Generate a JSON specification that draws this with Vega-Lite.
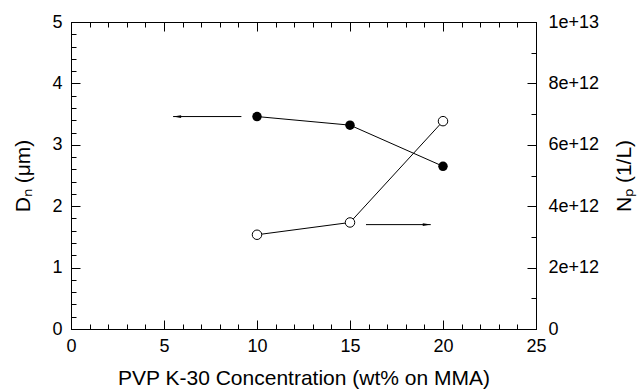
{
  "$schema": "https://vega.github.io/schema/vega-lite/v6.json",
  "width": 465,
  "height": 307,
  "autosize": {"type": "none"},
  "padding": {"left": 71, "top": 22, "right": 101, "bottom": 63},
  "background": "white",
  "datasets": {
    "dn": [
      {"conc": 10, "value": 3.46},
      {"conc": 15, "value": 3.32},
      {"conc": 20, "value": 2.65}
    ],
    "np": [
      {"conc": 10, "value": 3.07e12},
      {"conc": 15, "value": 3.47e12},
      {"conc": 20, "value": 6.77e12}
    ],
    "arrowL": [{"conc": 9.16, "tip": 5.49, "value": 3.46}],
    "arrowR": [{"conc": 15.86, "tip": 19.34, "value": 3.4e12}]
  },
  "config": {
    "font": "Liberation Sans",
    "view": {"stroke": "black", "strokeWidth": 1},
    "axis": {
      "grid": false,
      "domainColor": "black",
      "domainWidth": 1,
      "tickColor": "black",
      "tickWidth": 1,
      "labelFont": "Liberation Sans",
      "labelFontSize": 18,
      "labelColor": "black",
      "labelFlush": false,
      "labelOverlap": false,
      "titleFont": "Liberation Sans",
      "titleFontSize": 21,
      "titleFontWeight": "normal",
      "titleColor": "black"
    }
  },
  "layer": [
    {
      "resolve": {"axis": {"x": "independent", "y": "independent"}},
      "layer": [
        {
          "data": {"name": "dn"},
          "mark": {"type": "line", "color": "black", "strokeWidth": 1},
          "encoding": {
            "x": {
              "field": "conc", "type": "quantitative",
              "scale": {"domain": [0, 25], "nice": false, "zero": false},
              "axis": {
                "orient": "bottom",
                "title": "PVP K-30 Concentration (wt% on MMA)",
                "values": [0, 5, 10, 15, 20, 25],
                "tickSize": -9,
                "labelPadding": 17,
                "titlePadding": 12
              }
            },
            "y": {
              "field": "value", "type": "quantitative",
              "scale": {"domain": [0, 5], "nice": false, "zero": false},
              "axis": {
                "orient": "left",
                "title": "Dₙ (μm)",
                "values": [0, 1, 2, 3, 4, 5],
                "tickSize": -9,
                "labelPadding": 18,
                "titlePadding": 18
              }
            }
          }
        },
        {
          "data": {"name": "dn"},
          "mark": {"type": "point", "shape": "circle", "filled": true, "color": "black", "size": 90, "opacity": 1},
          "encoding": {
            "x": {
              "field": "conc", "type": "quantitative",
              "axis": {
                "orient": "bottom", "title": null, "labels": false, "domain": false,
                "values": [0,1,2,3,4,5,6,7,8,9,10,11,12,13,14,15,16,17,18,19,20,21,22,23,24,25],
                "tickSize": -5
              }
            },
            "y": {
              "field": "value", "type": "quantitative",
              "axis": {
                "orient": "left", "title": null, "labels": false, "domain": false,
                "values": [0,0.2,0.4,0.6,0.8,1,1.2,1.4,1.6,1.8,2,2.2,2.4,2.6,2.8,3,3.2,3.4,3.6,3.8,4,4.2,4.4,4.6,4.8,5],
                "tickSize": -5
              }
            }
          }
        },
        {
          "data": {"name": "arrowL"},
          "mark": {"type": "rule", "color": "black", "strokeWidth": 1},
          "encoding": {
            "x": {"field": "conc", "type": "quantitative", "axis": null},
            "x2": {"field": "tip"},
            "y": {"field": "value", "type": "quantitative", "axis": null}
          }
        },
        {
          "data": {"name": "arrowL"},
          "mark": {"type": "point", "shape": "M 0 0 L 2 -0.35 L 2 0.35 Z", "filled": true, "color": "black", "size": 64, "opacity": 1},
          "encoding": {
            "x": {"field": "tip", "type": "quantitative", "axis": null},
            "y": {"field": "value", "type": "quantitative", "axis": null}
          }
        }
      ]
    },
    {
      "resolve": {"axis": {"x": "independent", "y": "independent"}},
      "layer": [
        {
          "data": {"name": "np"},
          "mark": {"type": "line", "color": "black", "strokeWidth": 1},
          "encoding": {
            "x": {
              "field": "conc", "type": "quantitative",
              "axis": {
                "orient": "top", "title": null, "labels": false,
                "values": [0, 5, 10, 15, 20, 25],
                "tickSize": -9
              }
            },
            "y": {
              "field": "value", "type": "quantitative",
              "scale": {"domain": [0, 1e13], "nice": false, "zero": false},
              "axis": {
                "orient": "right",
                "title": "Nₚ (1/L)",
                "titleAngle": 270,
                "titleBaseline": "top",
                "values": [0, 2e12, 4e12, 6e12, 8e12, 1e13],
                "labelExpr": "datum.value === 0 ? '0' : format(datum.value, '.0e')",
                "tickSize": -9,
                "labelPadding": 21,
                "titlePadding": 15
              }
            }
          }
        },
        {
          "data": {"name": "np"},
          "mark": {"type": "point", "shape": "circle", "filled": true, "fill": "white", "stroke": "black", "strokeWidth": 1, "size": 90, "opacity": 1},
          "encoding": {
            "x": {
              "field": "conc", "type": "quantitative",
              "axis": {
                "orient": "top", "title": null, "labels": false, "domain": false,
                "values": [0,1,2,3,4,5,6,7,8,9,10,11,12,13,14,15,16,17,18,19,20,21,22,23,24,25],
                "tickSize": -5
              }
            },
            "y": {
              "field": "value", "type": "quantitative",
              "axis": {
                "orient": "right", "title": null, "labels": false, "domain": false,
                "values": [0,1e12,2e12,3e12,4e12,5e12,6e12,7e12,8e12,9e12,1e13],
                "tickSize": -5
              }
            }
          }
        },
        {
          "data": {"name": "arrowR"},
          "mark": {"type": "rule", "color": "black", "strokeWidth": 1},
          "encoding": {
            "x": {"field": "conc", "type": "quantitative", "axis": null},
            "x2": {"field": "tip"},
            "y": {"field": "value", "type": "quantitative", "axis": null}
          }
        },
        {
          "data": {"name": "arrowR"},
          "mark": {"type": "point", "shape": "M 0 0 L -2 -0.35 L -2 0.35 Z", "filled": true, "color": "black", "size": 64, "opacity": 1},
          "encoding": {
            "x": {"field": "tip", "type": "quantitative", "axis": null},
            "y": {"field": "value", "type": "quantitative", "axis": null}
          }
        }
      ]
    }
  ],
  "resolve": {"scale": {"y": "independent"}, "axis": {"x": "independent", "y": "independent"}}
}
